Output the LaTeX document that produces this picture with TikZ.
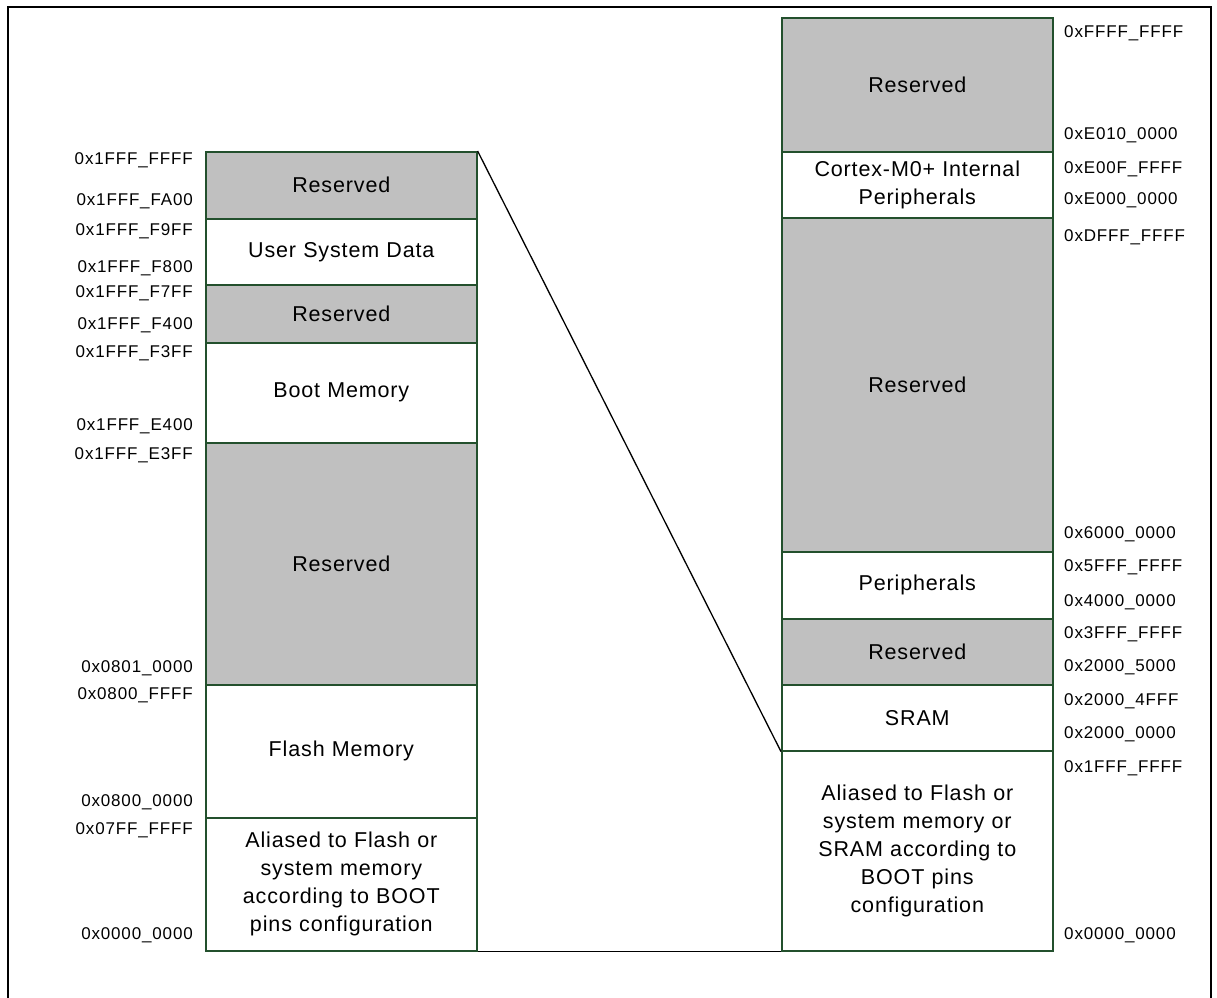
\documentclass[tikz,border=0pt]{standalone}
\usepackage{fontspec}
\setmainfont{Liberation Sans}
\newfontfamily\blockfont[LetterSpace=4]{Liberation Sans}
\newfontfamily\addrfont[LetterSpace=5]{Liberation Sans}
\definecolor{edgegreen}{RGB}{35,80,45}
\definecolor{rsvgray}{RGB}{192,192,192}

\begin{document}
\begin{tikzpicture}[x=1pt,y=-1pt,
  region/.style={draw=edgegreen, line width=1.6pt, fill=white,
    minimum width=271pt, text width=250pt, align=center, inner sep=0pt,
    anchor=north west, font=\blockfont\fontsize{21.5}{28}\selectfont},
  rsv/.style={region, fill=rsvgray},
  addrL/.style={anchor=east, inner sep=0pt, font=\addrfont\fontsize{17}{19}\selectfont},
  addrR/.style={anchor=west, inner sep=0pt, font=\addrfont\fontsize{17}{19}\selectfont},
  link/.style={draw=black, line width=1.3pt}
]
\useasboundingbox (0,0) rectangle (1217,997);
\clip (0,0) rectangle (1217,997);

% outer frame (its lower edge lies below the page)
\draw[line width=2.2pt] (8,1010) -- (8,7) -- (1211,7) -- (1211,1010);

% ---- code / system memory region ----
\node[rsv,    minimum height=67pt]  (lr1)    at (205,151) {Reserved};
\node[region, minimum height=66pt]  (lusd)   at (205,218) {User System Data};
\node[rsv,    minimum height=58pt]  (lr2)    at (205,284) {Reserved};
\node[region, minimum height=100pt] (lboot)  at (205,342) {Boot Memory};
\node[rsv,    minimum height=242pt] (lr3)    at (205,442) {Reserved};
\node[region, minimum height=133pt] (lflash) at (205,684) {Flash Memory};
\node[region, minimum height=133pt] (lalias) at (205,817)
  {Aliased to Flash or\\system memory\\according to BOOT\\pins configuration};

% ---- full 4 GB address space ----
\node[rsv,    minimum height=134pt] (rr1)    at (781,17)  {Reserved};
\node[region, minimum height=66pt]  (rcm)    at (781,151) {Cortex-M0+ Internal\\Peripherals};
\node[rsv,    minimum height=334pt] (rr2)    at (781,217) {Reserved};
\node[region, minimum height=67pt]  (rper)   at (781,551) {Peripherals};
\node[rsv,    minimum height=66pt]  (rr3)    at (781,618) {Reserved};
\node[region, minimum height=66pt]  (rsram)  at (781,684) {SRAM};
\node[region, minimum height=200pt] (ralias) at (781,750)
  {Aliased to Flash or\\system memory or\\SRAM according to\\BOOT pins\\configuration};

% zoom lines
\draw[link] (lr1.north east) -- (rsram.south west);
\draw[link] (lalias.south east) -- (ralias.south west);

% ---- addresses, left map ----
\foreach \yy/\txt [count=\i] in {
  160/0x1FFF\_FFFF, 201/0x1FFF\_FA00, 231/0x1FFF\_F9FF, 268/0x1FFF\_F800,
  293/0x1FFF\_F7FF, 325/0x1FFF\_F400, 353/0x1FFF\_F3FF, 426/0x1FFF\_E400,
  455/0x1FFF\_E3FF, 668/0x0801\_0000, 695/0x0800\_FFFF, 802/0x0800\_0000,
  830/0x07FF\_FFFF, 935/0x0000\_0000}
  \node[addrL] (al\i) at (193,\yy) {\txt};

% ---- addresses, right map ----
\foreach \yy/\txt [count=\i] in {
  33/0xFFFF\_FFFF, 135/0xE010\_0000, 169/0xE00F\_FFFF, 200/0xE000\_0000,
  237/0xDFFF\_FFFF, 534/0x6000\_0000, 567/0x5FFF\_FFFF, 602/0x4000\_0000,
  634/0x3FFF\_FFFF, 667/0x2000\_5000, 701/0x2000\_4FFF, 734/0x2000\_0000,
  768/0x1FFF\_FFFF, 935/0x0000\_0000}
  \node[addrR] (ar\i) at (1064,\yy) {\txt};
\end{tikzpicture}
\end{document}
